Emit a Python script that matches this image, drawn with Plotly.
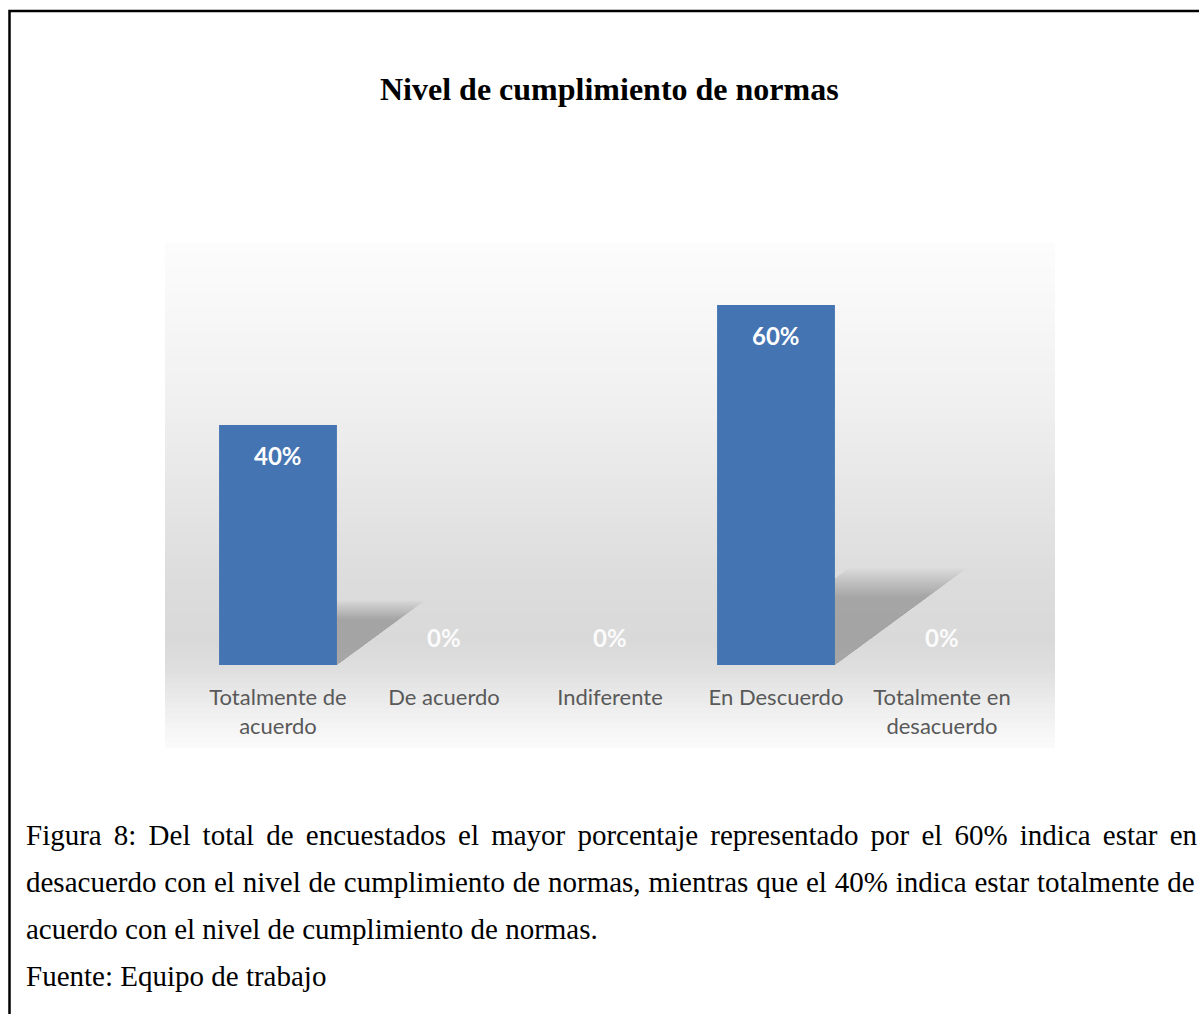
import plotly.graph_objects as go

# datos del gráfico
categorias = ["Totalmente de<br>acuerdo", "De acuerdo", "Indiferente",
              "En Descuerdo", "Totalmente en<br>desacuerdo"]
porcentajes = [40, 0, 0, 60, 0]
etiquetas = [f"{v}%" for v in porcentajes]

titulo = "Nivel de cumplimiento de normas"
lineas_figura = [
    "Figura 8: Del total de encuestados el mayor porcentaje representado por el 60% indica estar en",
    "desacuerdo con el nivel de cumplimiento de normas, mientras que el 40% indica estar totalmente de",
    "acuerdo con el nivel de cumplimiento de normas.",
    "Fuente: Equipo de trabajo",
]

W, H = 1199, 1014


def px(x):
    return x / W


def py(y):
    return 1 - y / H


BAR_W = 0.71
SERIF = "Liberation Serif, Times New Roman, serif"
SANS = "Lato, Carlito, Calibri, sans-serif"

shapes = []

# fondo degradado del área del gráfico (blanco -> gris -> blanco)
stops = [(243, 252), (300, 248), (400, 240), (500, 229), (580, 220),
         (640, 217), (665, 222), (690, 232), (720, 243), (748, 252)]
y_px = 243
while y_px < 748:
    for (a, ga), (b, gb) in zip(stops[:-1], stops[1:]):
        if a <= y_px < b:
            g = int(round(ga + (gb - ga) * (y_px - a) / (b - a)))
            break
    shapes.append(dict(
        type="rect", xref="paper", yref="paper", layer="below",
        x0=px(165), x1=px(1055), y0=py(y_px + 5), y1=py(y_px),
        fillcolor=f"rgb({g},{g},{g})", line=dict(width=0),
    ))
    y_px += 5

# sombras en perspectiva (difuminadas) detrás de las barras
for i, v in enumerate(porcentajes):
    if v <= 0:
        continue
    dx = v * 6 * 0.32 / 166
    dy = 0.235 * v
    x0, x1 = i - BAR_W / 2, i + BAR_W / 2
    k = 1.14
    while k > 0.78:
        shapes.append(dict(
            type="path", xref="x", yref="y", layer="below",
            path=f"M {x0},0 L {x1},0 L {x1 + dx * k},{dy * k} L {x0 + dx * k},{dy * k} Z",
            fillcolor="rgba(80,80,80,0.022)", line=dict(width=0),
        ))
        k -= 0.02

# marco de la página
shapes.append(dict(
    type="rect", xref="paper", yref="paper",
    x0=px(9.5), x1=px(1220), y0=py(1030), y1=py(11),
    line=dict(color="black", width=2.5), fillcolor="rgba(0,0,0,0)",
))

fig = go.Figure(go.Bar(
    x=list(range(len(categorias))), y=porcentajes,
    width=BAR_W, marker=dict(color="#4574b2", line=dict(width=0)),
    hoverinfo="skip",
))

annotations = []
for i, (v, t) in enumerate(zip(porcentajes, etiquetas)):
    annotations.append(dict(
        x=i, y=v, xref="x", yref="y", text=f"<b>{t}</b>", showarrow=False,
        yshift=-30 if v > 0 else 28,
        font=dict(family=SANS, size=24,
                  color="white" if v > 0 else "rgba(255,255,255,0.92)"),
    ))

annotations.append(dict(
    x=px(609), y=py(89), xref="paper", yref="paper", showarrow=False,
    text=f"<b>{titulo}</b>", xanchor="center", yanchor="middle",
    font=dict(family=SERIF, size=32, color="black"),
))

espacio = [4.9, 0.6, 0, 0]
for k, (linea, ws) in enumerate(zip(lineas_figura, espacio)):
    texto = f'<span style="word-spacing:{ws}px">{linea}</span>' if ws else linea
    annotations.append(dict(
        x=px(24), y=py(835 + 47 * k), xref="paper", yref="paper",
        showarrow=False, text=texto, xanchor="left", yanchor="middle",
        font=dict(family=SERIF, size=29, color="black"),
    ))

fig.update_layout(
    width=W, height=H,
    margin=dict(l=0, r=0, t=0, b=0),
    paper_bgcolor="white",
    plot_bgcolor="rgba(0,0,0,0)",
    showlegend=False,
    xaxis=dict(
        domain=[px(195), px(1025)], range=[-0.5, 4.5],
        tickvals=list(range(len(categorias))), ticktext=categorias,
        tickfont=dict(family=SANS, size=22, color="#595959"),
        showgrid=False, zeroline=False, showline=False, ticks="",
        ticklabelstandoff=17, fixedrange=True,
    ),
    yaxis=dict(
        domain=[py(665), py(250)], range=[0, 415 / 6],
        visible=False, fixedrange=True,
    ),
    shapes=shapes,
    annotations=annotations,
)

fig.write_html(
    "out.html",
    config={"displayModeBar": False},
    post_script="document.body.style.margin='0';document.body.style.overflow='hidden';",
)
